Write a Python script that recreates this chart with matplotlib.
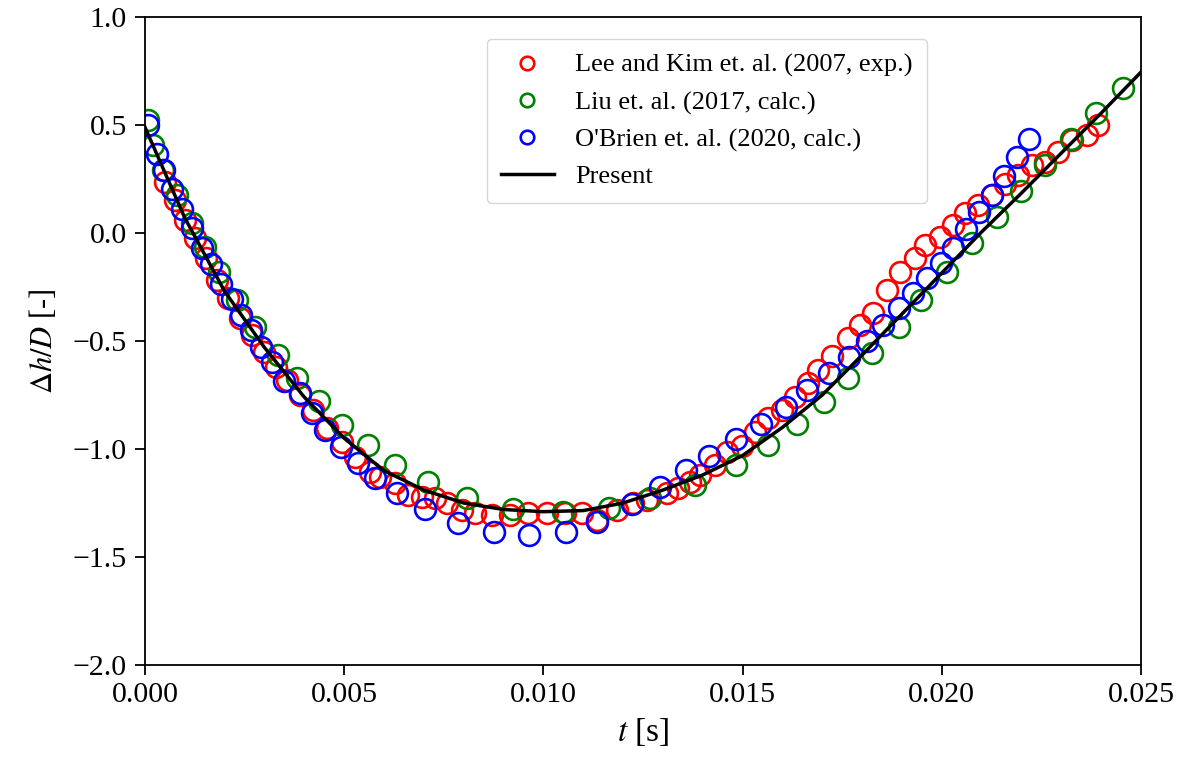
import matplotlib
matplotlib.use("Agg")
import matplotlib.pyplot as plt

plt.rcParams['font.family'] = ['Liberation Serif', 'DejaVu Serif']
plt.rcParams['mathtext.fontset'] = 'stix'

# Lee and Kim (2007, exp.)
t_lee = [0.000502, 0.000753, 0.001004, 0.001255, 0.001531, 0.001807, 0.002083, 0.002385,
         0.002686, 0.002987, 0.003288, 0.003564, 0.003891, 0.004217, 0.004568, 0.004945,
         0.005271, 0.005648, 0.005899, 0.006275, 0.006601, 0.006953, 0.007279, 0.007580,
         0.007957, 0.008283, 0.008710, 0.009162, 0.009614, 0.010090, 0.010542, 0.010969,
         0.011345, 0.011847, 0.012249, 0.012600, 0.013102, 0.013378, 0.01368, 0.01393,
         0.01431, 0.01461, 0.01498, 0.01531, 0.01564, 0.01599, 0.01632, 0.01664, 0.01689,
         0.01724, 0.01765, 0.01795, 0.01827, 0.01862, 0.01895, 0.01933, 0.01958, 0.01995,
         0.02028, 0.02058, 0.02091, 0.02126, 0.02159, 0.02191, 0.02226, 0.02259, 0.02292,
         0.02327, 0.02364, 0.02392]
h_lee = [0.236, 0.153, 0.060, -0.023, -0.116, -0.218, -0.301, -0.394,
         -0.472, -0.551, -0.620, -0.681, -0.750, -0.819, -0.903, -0.968,
         -1.037, -1.106, -1.130, -1.157, -1.213, -1.222, -1.227, -1.250,
         -1.282, -1.296, -1.306, -1.306, -1.296, -1.296, -1.296, -1.296,
         -1.329, -1.282, -1.250, -1.236, -1.204, -1.181, -1.153, -1.120,
         -1.074, -1.014, -0.986, -0.921, -0.856, -0.819, -0.759, -0.694, -0.634,
         -0.569, -0.486, -0.426, -0.370, -0.264, -0.181, -0.116, -0.056, -0.019,
         0.037, 0.093, 0.130, 0.176, 0.227, 0.269, 0.315, 0.329, 0.375,
         0.431, 0.454, 0.500]

# Liu (2017, calc.)
t_liu = [0.000075, 0.0002, 0.00045, 0.0008, 0.00118, 0.00151, 0.00186, 0.00231, 0.00276,
         0.00334, 0.00382, 0.00437, 0.00494, 0.0056, 0.00627, 0.0071, 0.00808, 0.00924,
         0.01049, 0.01165, 0.01268, 0.0138, 0.01483, 0.01564, 0.01637, 0.01704, 0.01765,
         0.01825, 0.01893, 0.01948, 0.02013, 0.02076, 0.02139, 0.02199, 0.02259, 0.02324,
         0.02387, 0.02455]
h_liu = [0.523, 0.407, 0.292, 0.176, 0.046, -0.065, -0.181, -0.310, -0.435,
         -0.565, -0.671, -0.778, -0.889, -0.981, -1.074, -1.153, -1.227, -1.278,
         -1.292, -1.273, -1.227, -1.167, -1.074, -0.981, -0.884, -0.782, -0.671,
         -0.556, -0.435, -0.310, -0.181, -0.046, 0.074, 0.194, 0.315, 0.435,
         0.556, 0.671]

# O'Brien (2020, calc.)
t_obr = [0.000075, 0.0003, 0.00048, 0.00068, 0.00093, 0.00118, 0.00143, 0.00166, 0.00191,
         0.00218, 0.00241, 0.00266, 0.00291, 0.00319, 0.00349, 0.00389, 0.00419, 0.00452,
         0.00492, 0.00535, 0.00577, 0.00633, 0.00703, 0.00786, 0.00876, 0.00964, 0.01057,
         0.01135, 0.01222, 0.01293, 0.01358, 0.01416, 0.01483, 0.01546, 0.01609, 0.01662,
         0.01717, 0.01767, 0.01812, 0.01852, 0.01893, 0.01928, 0.01963, 0.01998, 0.02028,
         0.02061, 0.02093, 0.02126, 0.02156, 0.02189, 0.02219]
h_obr = [0.500, 0.366, 0.292, 0.204, 0.111, 0.023, -0.069, -0.144, -0.236,
         -0.306, -0.380, -0.449, -0.528, -0.597, -0.685, -0.741, -0.833, -0.912,
         -0.991, -1.065, -1.134, -1.204, -1.278, -1.343, -1.384, -1.398, -1.384,
         -1.338, -1.255, -1.176, -1.097, -1.032, -0.954, -0.884, -0.806, -0.727,
         -0.648, -0.574, -0.500, -0.426, -0.347, -0.278, -0.208, -0.139, -0.069,
         0.019, 0.097, 0.176, 0.264, 0.352, 0.435]

# Present
t_pre = [0.0, 0.0005, 0.001, 0.0015, 0.002, 0.003, 0.004, 0.005, 0.006, 0.007, 0.008,
         0.009, 0.010, 0.011, 0.012, 0.013, 0.014, 0.015, 0.016, 0.017, 0.018, 0.019,
         0.020, 0.021, 0.022, 0.023, 0.024, 0.025]
h_pre = [0.49, 0.28, 0.07, -0.10, -0.27, -0.53, -0.76, -0.95, -1.10, -1.19, -1.25,
         -1.28, -1.29, -1.285, -1.25, -1.19, -1.12, -1.03, -0.90, -0.75, -0.565, -0.375,
         -0.185, 0.005, 0.185, 0.37, 0.555, 0.745]

fig = plt.figure(figsize=(11.96, 7.59), dpi=100)
ax = fig.add_axes([0.1212, 0.1238, 0.8328, 0.8538])

mk = dict(linestyle='none', marker='o', mfc='none', ms=15, mew=1.9)
ax.plot(t_lee, h_lee, color='red', label='Lee and Kim et. al. (2007, exp.)', **mk)
ax.plot(t_liu, h_liu, color='green', label='Liu et. al. (2017, calc.)', **mk)
ax.plot(t_obr, h_obr, color='blue', label="O'Brien et. al. (2020, calc.)", **mk)
ax.plot(t_pre, h_pre, color='black', lw=2.5, label='Present')

ax.set_xlim(0, 0.025)
ax.set_ylim(-2.0, 1.0)
ax.set_xticks([0.0, 0.005, 0.010, 0.015, 0.020, 0.025])
ax.set_xticklabels(['0.000', '0.005', '0.010', '0.015', '0.020', '0.025'])
ax.set_yticks([-2.0, -1.5, -1.0, -0.5, 0.0, 0.5, 1.0])
ax.tick_params(labelsize=21.5, width=1.3, length=7)
ax.tick_params(axis='x', pad=5)
ax.tick_params(axis='y', pad=6)
for s in ax.spines.values():
    s.set_linewidth(1.3)

ax.set_xlabel('$t$ [s]', fontsize=24, labelpad=6)
ax.set_ylabel(r'$\Delta h/D$ [-]', fontsize=22, labelpad=10)

ax.legend(loc='upper left', bbox_to_anchor=(0.343, 0.966), borderaxespad=0,
          fontsize=19, markerscale=0.65, handlelength=2.0, borderpad=0.55)

plt.savefig('out.png', dpi=100)
